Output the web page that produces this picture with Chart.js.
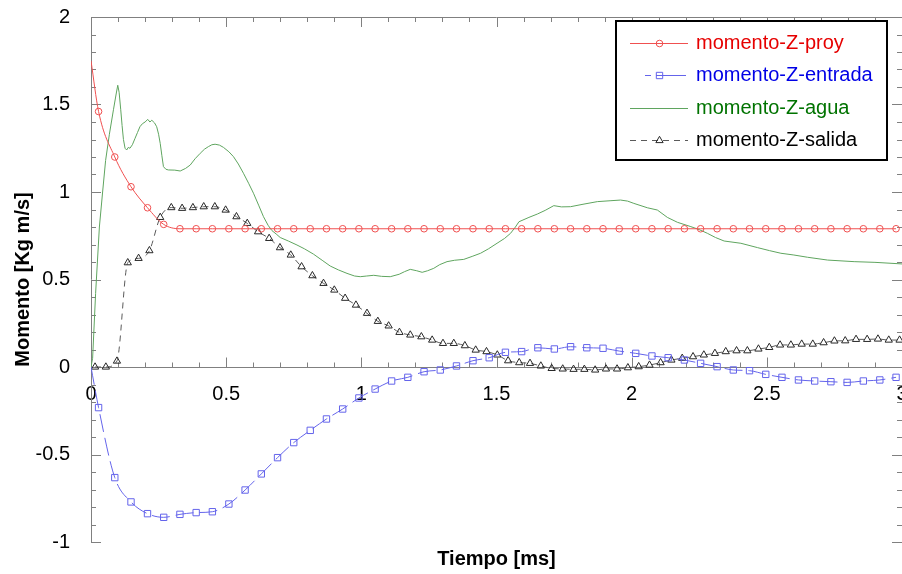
<!DOCTYPE html>
<html>
<head>
<meta charset="utf-8">
<script src="https://cdn.jsdelivr.net/npm/chart.js@4.4.0/dist/chart.umd.min.js"></script>
<style>
  html, body { margin: 0; padding: 0; background: #fff; }
  #wrap { width: 902px; height: 574px; }
</style>
</head>
<body>
<div id="wrap"><canvas id="c" width="902" height="574"></canvas></div>
<script>
// Series names (legend text)
const seriesNames = ['momento-Z-proy', 'momento-Z-entrada', 'momento-Z-agua', 'momento-Z-salida'];

// Axis tick values and their labels
const xTickValues = [0, 0.5, 1, 1.5, 2, 2.5, 3];
const xTickLabels = ['0', '0.5', '1', '1.5', '2', '2.5', '3'];
const yTickValues = [-1, -0.5, 0, 0.5, 1, 1.5, 2];
const yTickLabels = ['-1', '-0.5', '0', '0.5', '1', '1.5', '2'];

// Sample times [ms] shared by the projectile and inlet series
const markTime = [0, 0.028, 0.088, 0.148, 0.209, 0.269, 0.329, 0.389, 0.449, 0.510, 0.570,
  0.630, 0.690, 0.750, 0.811, 0.871, 0.931, 0.991, 1.051, 1.112, 1.172,
  1.232, 1.292, 1.352, 1.413, 1.473, 1.533, 1.593, 1.653, 1.714, 1.774,
  1.834, 1.894, 1.954, 2.015, 2.075, 2.135, 2.195, 2.255, 2.316, 2.376,
  2.436, 2.496, 2.556, 2.617, 2.677, 2.737, 2.797, 2.857, 2.918, 2.978];

// Projectile momentum [Kg m/s]
const proyValue = [1.75, 1.46, 1.2, 1.03, 0.91, 0.815, 0.79, 0.79, 0.79, 0.79, 0.79,
  0.79, 0.79, 0.79, 0.79, 0.79, 0.79, 0.79, 0.79, 0.79, 0.79,
  0.79, 0.79, 0.79, 0.79, 0.79, 0.79, 0.79, 0.79, 0.79, 0.79,
  0.79, 0.79, 0.79, 0.79, 0.79, 0.79, 0.79, 0.79, 0.79, 0.79,
  0.79, 0.79, 0.79, 0.79, 0.79, 0.79, 0.79, 0.79, 0.79, 0.79];

// Inlet momentum [Kg m/s]
const entradaValue = [0, -0.232, -0.632, -0.771, -0.838, -0.859, -0.842, -0.832, -0.827, -0.783, -0.703,
  -0.611, -0.518, -0.432, -0.362, -0.297, -0.24, -0.177, -0.126, -0.08, -0.059,
  -0.027, -0.017, 0.006, 0.036, 0.053, 0.084, 0.088, 0.11, 0.103, 0.116,
  0.11, 0.107, 0.091, 0.078, 0.063, 0.053, 0.04, 0.021, 0.002, -0.017,
  -0.021, -0.042, -0.059, -0.074, -0.08, -0.084, -0.088, -0.08, -0.074, -0.059];

// Water momentum
const aguaTime = [0, 0.006, 0.017, 0.031, 0.043, 0.054, 0.068, 0.083, 0.093, 0.099,
  0.104, 0.11, 0.115, 0.12, 0.126, 0.132, 0.138, 0.144, 0.153, 0.163,
  0.172, 0.181, 0.19, 0.2, 0.21, 0.218, 0.225, 0.235, 0.243, 0.25,
  0.256, 0.262, 0.268, 0.277, 0.286, 0.31, 0.33, 0.35, 0.367, 0.385,
  0.404, 0.42, 0.434, 0.447, 0.459, 0.475, 0.49, 0.51, 0.527, 0.545,
  0.564, 0.583, 0.601, 0.62, 0.638, 0.655, 0.669, 0.685, 0.7, 0.73,
  0.762, 0.79, 0.823, 0.855, 0.885, 0.915, 0.947, 0.975, 0.996, 1.02,
  1.046, 1.075, 1.107, 1.14, 1.16, 1.181, 1.205, 1.225, 1.245, 1.268,
  1.29, 1.317, 1.345, 1.379, 1.41, 1.441, 1.47, 1.502, 1.53, 1.552,
  1.57, 1.583, 1.62, 1.651, 1.68, 1.712, 1.74, 1.774, 1.82, 1.873,
  1.92, 1.959, 1.985, 2.008, 2.058, 2.095, 2.132, 2.169, 2.219, 2.25,
  2.28, 2.31, 2.342, 2.404, 2.466, 2.51, 2.552, 2.6, 2.651, 2.725,
  2.823, 2.9, 3.0];
const aguaValue = [0, 0.05, 0.42, 0.8, 1.0, 1.18, 1.33, 1.47, 1.56, 1.61,
  1.57, 1.47, 1.38, 1.3, 1.25, 1.24, 1.255, 1.25, 1.27, 1.307,
  1.34, 1.373, 1.39, 1.4, 1.415, 1.4, 1.41, 1.395, 1.373, 1.33,
  1.278, 1.21, 1.145, 1.13, 1.126, 1.125, 1.12, 1.135, 1.154, 1.19,
  1.221, 1.245, 1.259, 1.27, 1.273, 1.268, 1.255, 1.23, 1.202, 1.16,
  1.107, 1.05, 0.993, 0.925, 0.859, 0.81, 0.78, 0.76, 0.74, 0.72,
  0.697, 0.675, 0.645, 0.61, 0.577, 0.555, 0.535, 0.52, 0.516, 0.52,
  0.524, 0.518, 0.516, 0.53, 0.545, 0.558, 0.55, 0.541, 0.55, 0.564,
  0.585, 0.602, 0.61, 0.615, 0.632, 0.65, 0.675, 0.707, 0.735, 0.764,
  0.8, 0.83, 0.855, 0.874, 0.895, 0.922, 0.915, 0.916, 0.93, 0.945,
  0.95, 0.954, 0.948, 0.935, 0.91, 0.897, 0.855, 0.827, 0.802, 0.785,
  0.764, 0.74, 0.72, 0.707, 0.682, 0.665, 0.65, 0.64, 0.627, 0.611,
  0.602, 0.598, 0.589];

// Outlet momentum
const salidaTime = [0.015, 0.055, 0.096, 0.136, 0.176, 0.216, 0.256, 0.297, 0.337, 0.377,
  0.417, 0.458, 0.498, 0.538, 0.578, 0.618, 0.659, 0.699, 0.739, 0.779,
  0.819, 0.860, 0.900, 0.940, 0.980, 1.021, 1.061, 1.101, 1.141, 1.181,
  1.222, 1.262, 1.302, 1.342, 1.383, 1.423, 1.463, 1.503, 1.543, 1.584,
  1.624, 1.664, 1.704, 1.745, 1.785, 1.825, 1.865, 1.905, 1.946, 1.986,
  2.026, 2.066, 2.107, 2.147, 2.187, 2.227, 2.267, 2.308, 2.348, 2.388,
  2.428, 2.469, 2.509, 2.549, 2.589, 2.629, 2.670, 2.710, 2.750, 2.790,
  2.830, 2.871, 2.911, 2.951, 2.991];
const salidaValue = [0, 0, 0.034, 0.596, 0.621, 0.665, 0.855, 0.911, 0.907, 0.911,
  0.916, 0.916, 0.897, 0.859, 0.821, 0.773, 0.735, 0.682, 0.64, 0.573,
  0.522, 0.478, 0.44, 0.393, 0.354, 0.307, 0.261, 0.235, 0.198, 0.183,
  0.173, 0.154, 0.135, 0.135, 0.122, 0.097, 0.088, 0.069, 0.036, 0.025,
  0.021, 0.006, -0.008, -0.011, -0.013, -0.013, -0.017, -0.011, -0.011, -0.004,
  0.002, 0.011, 0.025, 0.04, 0.05, 0.059, 0.069, 0.078, 0.088, 0.093,
  0.093, 0.103, 0.112, 0.126, 0.126, 0.131, 0.131, 0.139, 0.149, 0.15,
  0.158, 0.158, 0.16, 0.154, 0.154];

const FONT = "'Liberation Sans', Arial, Helvetica, sans-serif";
const toPoints = (t, v) => t.map((x, i) => ({ x, y: v[i] }));
// no marker on the starting point at t = 0
const markerRadius = r => c => (c.raw && c.raw.x === 0 ? 0 : r);

// Marker outline used inside the legend box
function drawMarker(ctx, style, r, x, y) {
  ctx.beginPath();
  if (style === 'circle') {
    ctx.arc(x, y, r, 0, Math.PI * 2);
  } else if (style === 'rect') {
    const s = r * Math.SQRT1_2;
    ctx.rect(x - s, y - s, 2 * s, 2 * s);
  } else if (style === 'triangle') {
    let a = 0;
    ctx.moveTo(x + Math.sin(a) * r, y - Math.cos(a) * r);
    a += 2 * Math.PI / 3;
    ctx.lineTo(x + Math.sin(a) * r, y - Math.cos(a) * r);
    a += 2 * Math.PI / 3;
    ctx.lineTo(x + Math.sin(a) * r, y - Math.cos(a) * r);
    ctx.closePath();
  }
  ctx.stroke();
}

// Frame, zero axis and inward tick marks (major every 0.5, minor every 0.1)
const frameTicks = {
  id: 'frameTicks',
  beforeDatasetsDraw(chart) {
    const { ctx, chartArea: a } = chart;
    const xs = chart.scales.x, ys = chart.scales.y;
    const px = v => Math.round(xs.getPixelForValue(v)) + 0.5;
    const py = v => Math.round(ys.getPixelForValue(v)) + 0.5;
    const L = Math.round(a.left) + 0.5;
    const T = Math.round(a.top) + 0.5;
    const y0 = py(0);
    const seg = (x1, y1, x2, y2) => { ctx.beginPath(); ctx.moveTo(x1, y1); ctx.lineTo(x2, y2); ctx.stroke(); };
    ctx.save();
    ctx.strokeStyle = '#808080';
    ctx.lineWidth = 1;
    seg(L, a.top, L, a.bottom);
    seg(a.left, T, a.right, T);
    seg(a.left, y0, a.right, y0);
    for (let i = 0; i <= 30; i++) {
      const x = px(i / 10), len = i % 5 === 0 ? 10 : 5;
      seg(x, y0, x, y0 - len);
      seg(x, a.top, x, a.top + len);
    }
    for (let i = -10; i <= 20; i++) {
      const y = py(i / 10), len = i % 5 === 0 ? 10 : 5;
      seg(a.left, y, a.left + len, y);
      seg(a.right, y, a.right - len, y);
    }
    ctx.restore();
  }
};

// Boxed legend in the upper right corner of the plot
const boxLegend = {
  id: 'boxLegend',
  afterDraw(chart) {
    const { ctx, chartArea: a } = chart;
    const bx = a.right - 286, by = a.top + 4, bw = 271, bh = 139;
    ctx.save();
    ctx.fillStyle = '#fff';
    ctx.fillRect(bx, by, bw, bh);
    ctx.lineWidth = 2;
    ctx.strokeStyle = '#000';
    ctx.strokeRect(bx, by, bw, bh);
    chart.data.datasets.forEach((ds, i) => {
      const cy = Math.round(by + 22 + i * 32.3) + 0.5;
      const seg = ds.legendSegment || [14, 72];
      ctx.strokeStyle = ds.borderColor;
      ctx.lineWidth = 1;
      ctx.setLineDash(ds.legendDash || ds.borderDash || []);
      ctx.beginPath();
      ctx.moveTo(bx + seg[0], cy);
      ctx.lineTo(bx + seg[1], cy);
      ctx.stroke();
      ctx.setLineDash([]);
      if (ds.legendMarker) {
        ctx.strokeStyle = ds.pointBorderColor;
        drawMarker(ctx, ds.pointStyle, ds.legendMarker, bx + 43.5, cy);
      }
      ctx.fillStyle = ds.textColor;
      ctx.font = '20px ' + FONT;
      ctx.textBaseline = 'middle';
      ctx.textAlign = 'left';
      ctx.fillText(ds.label, bx + 80, cy);
    });
    ctx.restore();
  }
};

new Chart(document.getElementById('c'), {
  type: 'line',
  data: {
    datasets: [
      {
        label: seriesNames[0],
        data: toPoints(markTime, proyValue),
        borderColor: 'rgb(240,80,80)', borderWidth: 1,
        pointStyle: 'circle', pointRadius: markerRadius(3.3),
        pointBorderColor: 'rgb(240,80,80)', pointBackgroundColor: 'rgba(255,255,255,0)', pointBorderWidth: 1,
        cubicInterpolationMode: 'monotone',
        textColor: 'rgb(230,0,0)', legendMarker: 3.3
      },
      {
        label: seriesNames[1],
        data: toPoints(markTime, entradaValue),
        borderColor: 'rgb(100,100,235)', borderWidth: 1, borderDash: [18, 6],
        pointStyle: 'rect', pointRadius: markerRadius(4.5),
        pointBorderColor: 'rgb(100,100,235)', pointBackgroundColor: 'rgba(255,255,255,0)', pointBorderWidth: 1,
        cubicInterpolationMode: 'monotone',
        textColor: 'rgb(0,0,230)', legendMarker: 4.5,
        legendDash: [6, 5, 40, 5], legendSegment: [29, 70]
      },
      {
        label: seriesNames[2],
        data: toPoints(aguaTime, aguaValue),
        borderColor: 'rgb(95,165,95)', borderWidth: 1,
        pointRadius: 0,
        textColor: 'rgb(0,115,0)', legendMarker: 0
      },
      {
        label: seriesNames[3],
        data: toPoints(salidaTime, salidaValue),
        borderColor: 'rgb(90,90,90)', borderWidth: 1, borderDash: [6, 5],
        pointStyle: 'triangle', pointRadius: 4.2,
        pointBorderColor: 'rgb(40,40,40)', pointBackgroundColor: 'rgba(255,255,255,0)', pointBorderWidth: 1,
        cubicInterpolationMode: 'monotone',
        textColor: '#000', legendMarker: 4.2
      }
    ]
  },
  options: {
    responsive: false,
    animation: false,
    events: [],
    devicePixelRatio: 1,
    layout: { autoPadding: false, padding: { top: 17, left: 0, right: 0, bottom: 0 } },
    plugins: { legend: { display: false }, tooltip: { enabled: false }, title: { display: false } },
    scales: {
      x: {
        type: 'linear', min: 0, max: 3,
        position: { y: 0 },
        grid: { display: false, drawTicks: false },
        border: { display: false },
        afterBuildTicks: s => { s.ticks = xTickValues.map(v => ({ value: v })); },
        afterFit: s => { s.paddingLeft = 0; s.paddingRight = 0; },
        ticks: {
          callback: (v, i) => xTickLabels[i],
          color: '#000', font: { family: FONT, size: 20 },
          padding: 15, maxRotation: 0, minRotation: 0, autoSkip: false
        }
      },
      x2: {
        axis: 'x', type: 'linear', min: 0, max: 3, position: 'bottom',
        grid: { display: false, drawTicks: false },
        border: { display: false },
        ticks: { display: false },
        title: {
          display: true, text: 'Tiempo [ms]', color: '#000',
          font: { family: FONT, size: 20, weight: 'bold' },
          padding: { top: 0, bottom: 3 }
        },
        afterFit: s => { s.height = 32; }
      },
      y: {
        type: 'linear', min: -1, max: 2, position: 'left',
        grid: { display: false, drawTicks: false },
        border: { display: false },
        afterBuildTicks: s => { s.ticks = yTickValues.map(v => ({ value: v })); },
        afterFit: s => { s.width = 91; s.paddingTop = 0; s.paddingBottom = 0; },
        ticks: {
          callback: (v, i) => yTickLabels[i],
          color: '#000', font: { family: FONT, size: 20 },
          padding: 21, autoSkip: false
        },
        title: {
          display: true, text: 'Momento [Kg m/s]', color: '#000',
          font: { family: FONT, size: 20, weight: 'bold' },
          padding: { top: 11, bottom: 0 }
        }
      }
    }
  },
  plugins: [frameTicks, boxLegend]
});
</script>
</body>
</html>
